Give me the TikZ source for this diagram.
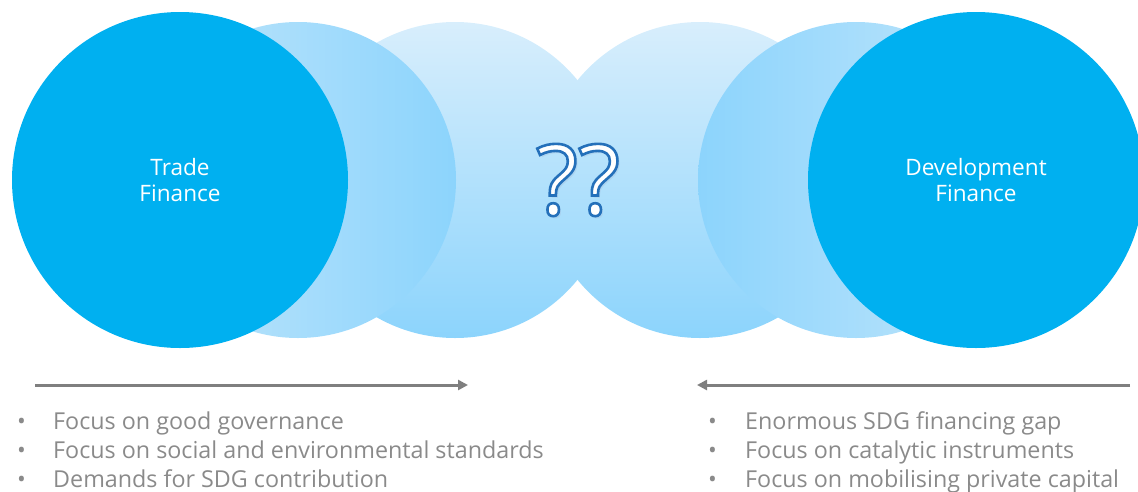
\documentclass[tikz,border=0pt]{standalone}
\usepackage{fontspec}
\setmainfont{Open Sans}
\usepackage{tikz}
\usetikzlibrary{arrows.meta, positioning}
\definecolor{deepblue}{HTML}{00B0F0}
\definecolor{paleblue}{HTML}{D8EEFC}
\definecolor{softblue}{HTML}{C2E6FB}
\definecolor{midblue}{HTML}{8CD4FC}
\definecolor{inkblue}{HTML}{2470BA}
\definecolor{arrowgray}{HTML}{7F7F7F}
\definecolor{textgray}{HTML}{8A8A8A}
% outlined text: white fill, blue stroke
\newcommand{\hollow}[1]{\textcolor{white}{\special{pdf:code 2 Tr 2.6 w 0.14 0.44 0.73 RG}#1\special{pdf:code 0 Tr}}}

\begin{document}
\begin{tikzpicture}[x=1pt, y=-1pt,
  bigcirc/.style={circle, fill=deepblue, minimum size=336pt, inner sep=0pt, text=white, align=center, font=\fontsize{22.6}{26}\selectfont},
  halo/.style={circle, minimum size=316pt, inner sep=0pt},
  item/.style={anchor=base west, text=textgray, inner sep=0pt, font=\fontsize{23.3}{27}\selectfont},
  flow/.style={draw=arrowgray, line width=3pt, -{Triangle[length=10pt, width=10pt]}}]
\useasboundingbox (0,0) rectangle (1138,491);
% middle pair
\node[halo, top color=paleblue, bottom color=midblue] (midL) at (455,180) {};
\node[halo, top color=paleblue, bottom color=midblue] (midR) at (700,180) {};
% inner pair
\node[halo, left color=softblue, right color=midblue] (innL) at (298,180) {};
\node[halo, left color=midblue, right color=softblue] (innR) at (856,180) {};
% outer circles
\node[bigcirc] (trade) at (180,180) {Trade\\Finance};
\node[bigcirc] (dev)   at (976,180) {Development\\Finance};
% question marks
\node[text=inkblue!40, opacity=0.5, font=\fontsize{98}{98}\selectfont] (qshadow) at (581,183) {??};
\node[font=\fontsize{98}{98}\selectfont] (quest) at (578,180) {\hollow{??}};
% arrows
\coordinate (tradeTail) at (35,385);
\coordinate (tradeHead) at (468,385);
\coordinate (devTail)   at (1130,385);
\coordinate (devHead)   at (697,385);
\draw[flow] (tradeTail) -- (tradeHead);
\draw[flow] (devTail) -- (devHead);
% bullet lists
\node[item] (t1) at (17,429) {\makebox[36pt][l]{\textbullet}Focus on good governance};
\node[item] (t2) at (17,458) {\makebox[36pt][l]{\textbullet}Focus on social and environmental standards};
\node[item] (t3) at (17,487) {\makebox[36pt][l]{\textbullet}Demands for SDG contribution};
\node[item] (d1) at (708,429) {\makebox[37pt][l]{\textbullet}Enormous SDG financing gap};
\node[item] (d2) at (708,458) {\makebox[37pt][l]{\textbullet}Focus on catalytic instruments};
\node[item] (d3) at (708,487) {\makebox[37pt][l]{\textbullet}Focus on mobilising private capital};
\end{tikzpicture}
\end{document}
